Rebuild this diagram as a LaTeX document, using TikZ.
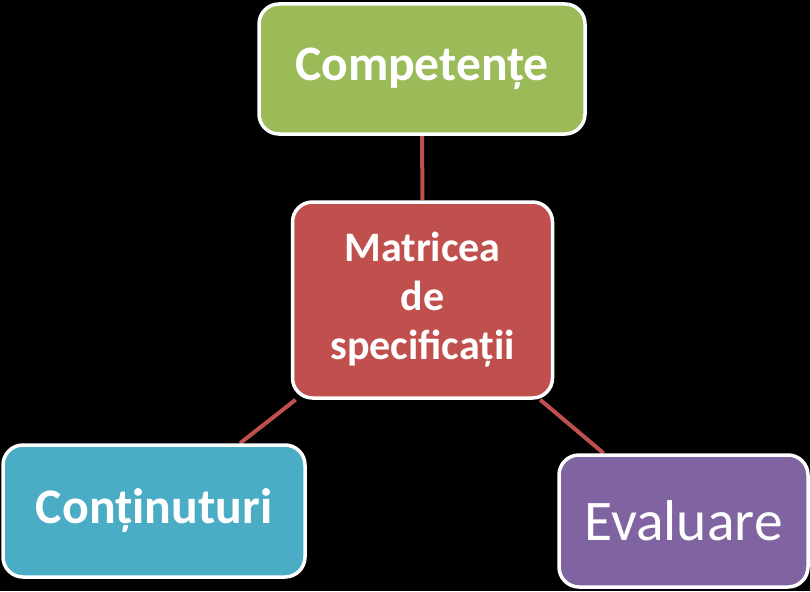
\documentclass[tikz,border=0pt]{standalone}
\usepackage{fontspec}
\setmainfont{Carlito}
\usetikzlibrary{backgrounds}
\definecolor{cgreen}{HTML}{9BBB59}
\definecolor{cred}{HTML}{C0504D}
\definecolor{cblue}{HTML}{4BACC6}
\definecolor{cpurple}{HTML}{8064A2}
\begin{document}
\begin{tikzpicture}[x=1pt,y=-1pt,
  box/.style={draw=white, line width=3.5pt, rounded corners=20pt, text=white, align=center, inner sep=0pt},
  link/.style={draw=cred, line width=4pt}]
\useasboundingbox (0,0) rectangle (810,591);
\node[box, fill=cgreen, minimum width=326pt, minimum height=130pt, font=\fontsize{49.6}{58}\selectfont\bfseries] (comp) at (422,69) {Competențe};
\node[box, fill=cred, minimum width=260pt, minimum height=196pt, font=\fontsize{42}{49}\selectfont\bfseries] (mat) at (422.5,300) {Matricea\\de\\specificații};
\node[box, fill=cblue, minimum width=302pt, minimum height=132pt, font=\fontsize{49.8}{58}\selectfont\bfseries] (cont) at (154,511) {Conținuturi};
\node[box, fill=cpurple, minimum width=249pt, minimum height=132pt, font=\fontsize{57.5}{66}\selectfont] (eval) at (683.5,521) {Evaluare};
\begin{scope}[on background layer]
\fill[black] (0,0) rectangle (810,591);
\draw[link] (comp.south) -- (mat.north);
\draw[link] (mat) -- (cont);
\draw[link] (mat) -- (eval);
\end{scope}
\end{tikzpicture}
\end{document}
